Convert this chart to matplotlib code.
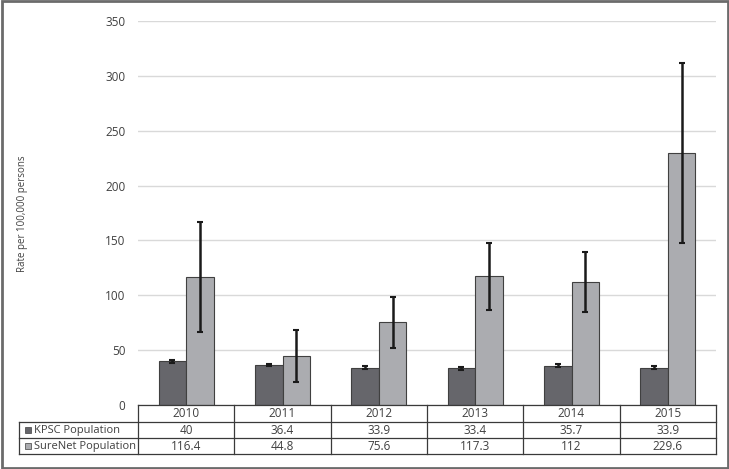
import numpy as np
import matplotlib
matplotlib.use("Agg")
import matplotlib.pyplot as plt
from matplotlib.patches import Rectangle
from matplotlib.lines import Line2D
from matplotlib.transforms import blended_transform_factory

years = ["2010", "2011", "2012", "2013", "2014", "2015"]
kpsc = [40, 36.4, 33.9, 33.4, 35.7, 33.9]
surenet = [116.4, 44.8, 75.6, 117.3, 112, 229.6]
# confidence limits
kpsc_lo = [38.6, 35.1, 32.7, 32.2, 34.4, 32.7]
kpsc_hi = [41.4, 37.7, 35.1, 34.6, 37.0, 35.1]
sure_lo = [66.3, 21.3, 52.3, 86.6, 84.5, 147.7]
sure_hi = [166.5, 68.6, 98.7, 148.0, 139.8, 311.5]
row_labels = ["KPSC Population", "SureNet Population"]

dark = "#66666b"
light = "#abacb0"
edge = "#404040"
txt = "#404040"
plt.rcParams["font.family"] = ["Open Sans", "DejaVu Sans"]

W, H = 729, 469
fig = plt.figure(figsize=(W / 100, H / 100), dpi=100)
ax = fig.add_axes([138 / W, 1 - 405 / H, (716 - 138) / W, (405 - 21) / H])

x = np.arange(len(years))
w = 0.285
k_err = [np.array(kpsc) - np.array(kpsc_lo), np.array(kpsc_hi) - np.array(kpsc)]
s_err = [np.array(surenet) - np.array(sure_lo), np.array(sure_hi) - np.array(surenet)]
ax.bar(x - w / 2, kpsc, w, color=dark, edgecolor=edge, lw=0.8, zorder=2)
ax.bar(x + w / 2, surenet, w, color=light, edgecolor=edge, lw=0.8, zorder=2)
ax.errorbar(x - w / 2, kpsc, yerr=k_err, fmt="none", ecolor="#1a1a1a",
            elinewidth=1.8, capsize=2, capthick=1.5, zorder=3)
ax.errorbar(x + w / 2, surenet, yerr=s_err, fmt="none", ecolor="#1a1a1a",
            elinewidth=1.8, capsize=2, capthick=1.5, zorder=3)

ax.set_xlim(-0.5, len(years) - 0.5)
ax.set_ylim(0, 350)
ax.set_yticks(np.arange(0, 351, 50))
ax.tick_params(axis="y", length=0, pad=9, labelsize=8.5, labelcolor=txt)
ax.set_xticks([])
ax.grid(axis="y", color="#d9d9d9", lw=1, zorder=0)
for s in ax.spines.values():
    s.set_visible(False)
fig.text(23 / W, 1 - 214 / H, "Rate per 100,000 persons", rotation=90,
         ha="center", va="center", fontsize=7, color=txt)

# data table under the plot
tr = blended_transform_factory(ax.transData, fig.transFigure)
ys = [1 - v / H for v in (405, 421.7, 438.3, 454.3)]
lc = "#3a3a3a"
xl = 19 / W
x0 = ax.transAxes.transform((0, 0))[0] / W
x1 = ax.transAxes.transform((1, 0))[0] / W
fig.add_artist(Line2D([x0, x1], [ys[0], ys[0]], color=lc, lw=0.9))
for yy in ys[1:]:
    fig.add_artist(Line2D([xl, x1], [yy, yy], color=lc, lw=0.9))
fig.add_artist(Line2D([xl, xl], [ys[1], ys[3]], color=lc, lw=0.9))
for i in range(len(years) + 1):
    fig.add_artist(Line2D([i - 0.5, i - 0.5], [ys[0], ys[3]], color=lc, lw=0.9,
                          transform=tr))
for i, yr in enumerate(years):
    fig.text(i, (ys[0] + ys[1]) / 2, yr, transform=tr, ha="center", va="center",
             fontsize=8.5, color=txt)
    fig.text(i, (ys[1] + ys[2]) / 2, f"{kpsc[i]:g}", transform=tr, ha="center",
             va="center", fontsize=8.5, color=txt)
    fig.text(i, (ys[2] + ys[3]) / 2, f"{surenet[i]:g}", transform=tr, ha="center",
             va="center", fontsize=8.5, color=txt)
for r, (lab, col) in enumerate(zip(row_labels, [dark, light])):
    yc = (ys[r + 1] + ys[r + 2]) / 2
    fig.add_artist(Rectangle((25 / W, yc - 3 / H), 6 / W, 6 / H, facecolor=col,
                             edgecolor=edge, lw=0.5))
    fig.text(34 / W, yc, lab, ha="left", va="center", fontsize=8, color=txt)

# outer frame
fig.add_artist(Rectangle((1.5 / W, 1.5 / H), (W - 3) / W, (H - 3) / H,
                         fill=False, edgecolor="#6b6b6b", lw=2))

fig.savefig("out.png", dpi=100)
